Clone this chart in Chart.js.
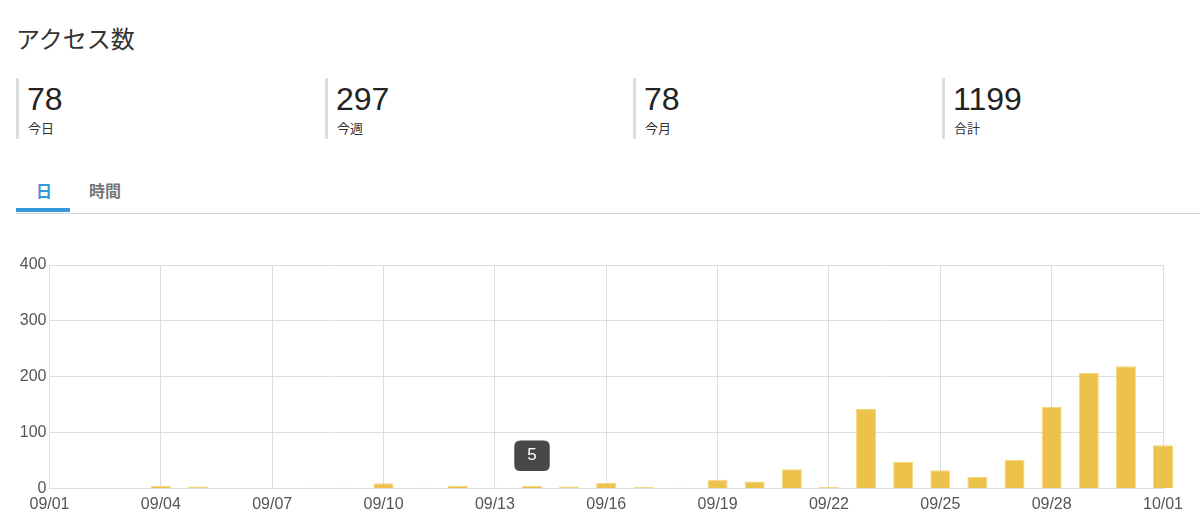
<!DOCTYPE html>
<html lang="ja">
<head>
<meta charset="utf-8">
<title>アクセス数</title>
<script src="https://cdn.jsdelivr.net/npm/chart.js@4/dist/chart.umd.min.js"></script>
<style>
  html, body { margin: 0; padding: 0; background: #fff; }
  body { width: 1200px; height: 528px; position: relative; overflow: hidden;
         font-family: "Liberation Sans", Arial, "Noto Sans CJK JP", sans-serif; color: #333; }
  .titulo { position: absolute; left: 16px; top: 26px; font-size: 24px; line-height: 24px;
            font-family: "Noto Sans CJK JP", sans-serif; color: #333; }
  .stat { position: absolute; top: 78px; height: 61px; width: 300px; border-left: 3px solid #ddd; }
  .stat .num { position: absolute; left: 8px; top: 5px; font-size: 32px; line-height: 32px; color: #222; }
  .stat .lbl { position: absolute; left: 9px; top: 43px; font-size: 13px; line-height: 13px;
               font-family: "Noto Sans CJK JP", sans-serif; color: #333; }
  .tabs { position: absolute; left: 16px; top: 176px; width: 1184px; height: 37px; border-bottom: 1px solid #cdd5dd; }
  .tab { position: absolute; top: 6px; font-size: 16px; line-height: 16px; font-weight: bold;
         font-family: "Noto Sans CJK JP", sans-serif; color: #777; }
  .tab.ativo { color: #3498db; }
  .sublinhado { position: absolute; left: 0; top: 32px; width: 54px; height: 4px; background: #3498db; }
  .grafico { position: absolute; left: 0; top: 250px; width: 1200px; height: 278px; }
</style>
</head>
<body>
  <div class="titulo">アクセス数</div>

  <div class="stat" style="left:16px"><div class="num">78</div><div class="lbl">今日</div></div>
  <div class="stat" style="left:325px"><div class="num">297</div><div class="lbl">今週</div></div>
  <div class="stat" style="left:633px"><div class="num">78</div><div class="lbl">今月</div></div>
  <div class="stat" style="left:942px"><div class="num">1199</div><div class="lbl">合計</div></div>

  <div class="tabs">
    <div class="tab ativo" style="left:20px">日</div>
    <div class="tab" style="left:73px">時間</div>
    <div class="sublinhado"></div>
  </div>

  <div class="grafico"><canvas id="acessosChart"></canvas></div>

<script>
// dados do gráfico
const dias = ['09/01', '09/02', '09/03', '09/04', '09/05', '09/06', '09/07', '09/08', '09/09', '09/10',
              '09/11', '09/12', '09/13', '09/14', '09/15', '09/16', '09/17', '09/18', '09/19', '09/20',
              '09/21', '09/22', '09/23', '09/24', '09/25', '09/26', '09/27', '09/28', '09/29', '09/30', '10/01'];
const acessos = [0, 0, 0, 5, 4, 0, 0, 2, 2, 10,
                 2, 5, 2, 5, 4, 11, 3, 2, 16, 13,
                 35, 3, 143, 48, 33, 21, 52, 146, 207, 219, 78];
const yTicks = [0, 100, 200, 300, 400];
const tooltipDia = '09/14'; // barra com o tooltip aberto

const chartCanvas = document.getElementById('acessosChart');
Chart.defaults.font.family = '"Liberation Sans", Arial, sans-serif';
Chart.defaults.font.size = 16;
Chart.defaults.color = '#555';

const acessosChart = new Chart(chartCanvas, {
    type: 'bar',
    data: {
        labels: dias,
        datasets: [{
            label: 'アクセス数',
            data: acessos,
            backgroundColor: '#edc24b',
            hoverBackgroundColor: '#edc24b',
            borderColor: '#f4d67c',
            hoverBorderColor: '#f4d67c',
            borderWidth: 1,
            barPercentage: 0.6,
            categoryPercentage: 0.9,
            clip: false
        }]
    },
    options: {
        responsive: true,
        maintainAspectRatio: false,
        animation: false,
        devicePixelRatio: 1,
        layout: { padding: { left: 16, right: 37, top: 15, bottom: 8 } },
        scales: {
            x: {
                offset: false,
                grid: {
                    offset: false,
                    drawTicks: false,
                    // a última linha (10/01) é mais escura, como na imagem
                    color: ctx => ctx.index === 10 ? '#c8c8c8' : '#dedede',
                    lineWidth: ctx => ctx.index === 10 ? 2 : 1
                },
                border: { color: '#dedede' },
                ticks: { autoSkip: true, maxTicksLimit: 11, maxRotation: 0, padding: 6, color: '#555' }
            },
            y: {
                min: yTicks[0],
                max: yTicks[yTicks.length - 1],
                afterFit: scale => { scale.width = 33.5; },
                afterBuildTicks: scale => { scale.ticks = yTicks.map(v => ({ value: v })); },
                grid: { drawTicks: false, color: '#dedede' },
                border: { color: '#dedede' },
                ticks: { padding: 3, color: '#555' }
            }
        },
        plugins: {
            legend: { display: false },
            tooltip: {
                xAlign: 'center',
                yAlign: 'bottom',
                backgroundColor: '#484848',
                bodyColor: '#fff',
                bodyFont: { size: 17 },
                bodyAlign: 'center',
                padding: { top: 5, bottom: 5, left: 13, right: 13 },
                cornerRadius: 6,
                caretSize: 0,
                caretPadding: 15,
                displayColors: false,
                callbacks: {
                    title: () => '',
                    label: ctx => String(ctx.parsed.y)
                }
            }
        }
    }
});

// Abre o tooltip na barra escolhida
acessosChart.tooltip.setActiveElements([{ datasetIndex: 0, index: dias.indexOf(tooltipDia) }], { x: 0, y: 0 });
acessosChart.update();
</script>
</body>
</html>
